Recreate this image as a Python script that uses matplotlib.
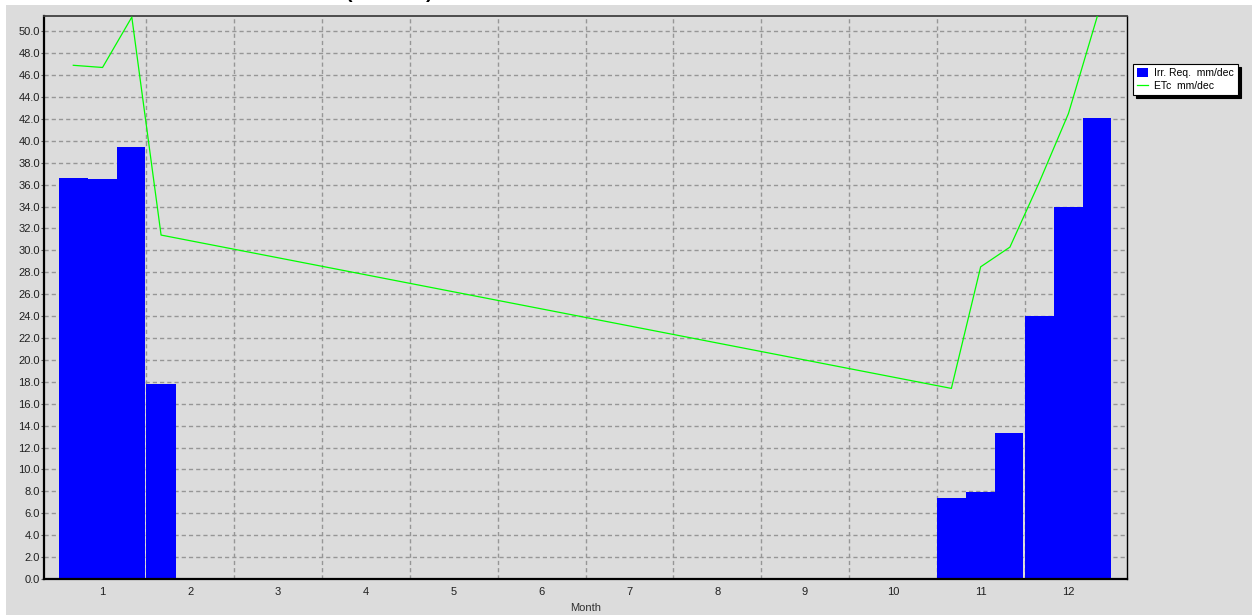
import matplotlib
matplotlib.use("Agg")
import matplotlib.pyplot as plt
from matplotlib.patches import Rectangle

# ---- data ----
months = [1, 2, 3, 4, 5, 6, 7, 8, 9, 10, 11, 12]
decades = list(range(1, 37))
irr_req = [36.6, 36.5, 39.4, 17.8, 0, 0, 0, 0, 0, 0, 0, 0,
           0, 0, 0, 0, 0, 0, 0, 0, 0, 0, 0, 0,
           0, 0, 0, 0, 0, 0, 7.4, 7.9, 13.3, 24.0, 34.0, 42.1]
etc_decades = [1, 2, 3, 4, 31, 32, 33, 34, 35, 36]
etc_values = [46.9, 46.7, 51.3, 31.4, 17.4, 28.5, 30.3, 36.2, 42.5, 51.5]
yticks = [i * 2.0 for i in range(26)]
ytick_labels = ["%.1f" % v for v in yticks]
legend_labels = ["Irr. Req.  mm/dec", "ETc  mm/dec"]
title_text = "(mm/dec)"
xlabel = "Month"

W, H = 1252, 616
GRAY = "#dcdcdc"
FONT = "Liberation Sans"
FS = 8

fig = plt.figure(figsize=(W / 100, H / 100), dpi=100)
fig.patch.set_facecolor("white")
fig.patches.append(Rectangle((6 / W, 1 / H), 1 - 6 / W, (615 - 5) / H,
                             transform=fig.transFigure, facecolor=GRAY,
                             edgecolor="none", zorder=-5))

left, right, top, bottom = 44, 1127, 16, 579
ax = fig.add_axes([left / W, (H - bottom) / H, (right - left) / W, (bottom - top) / H])
ax.set_zorder(2)
ax.set_facecolor(GRAY)

# bars: last decade of each month slightly narrower to show month separation
widths = [0.96 if d % 3 == 0 else 1.0 for d in decades]
bars = ax.bar([d - 0.5 for d in decades], irr_req, width=widths, align="edge",
              color="#0000ff", edgecolor="none", zorder=2)
line, = ax.plot(etc_decades, etc_values, color="#00ff00", lw=0.9, zorder=3)

ax.set_xlim(0, 37)
ax.set_ylim(0, 51.4)

# grid
GRID = "#969696"
for yv in yticks[1:]:
    ax.axhline(yv, color=GRID, lw=1, dashes=(3.0, 2.2), zorder=1)
for m in months[:-1]:
    ax.axvline(3 * m + 0.5, color=GRID, lw=1, dashes=(3.0, 2.2), zorder=1)

ax.set_yticks(yticks)
ax.set_yticklabels(ytick_labels, fontsize=FS, family=FONT, color="#202020")
ax.set_xticks([3 * m - 1 for m in months])
ax.set_xticklabels([str(m) for m in months], fontsize=FS, family=FONT, color="#202020")
ax.tick_params(axis="y", length=2, width=0.8, pad=1, color="#606060")
ax.tick_params(axis="x", length=0, pad=6)
ax.set_xlabel(xlabel, fontsize=FS, family=FONT, color="#303030", labelpad=4)

for s in ["left", "bottom"]:
    ax.spines[s].set_linewidth(1.6)
    ax.spines[s].set_color("black")
ax.spines["top"].set_linewidth(1.3)
ax.spines["top"].set_color("#404040")
ax.spines["right"].set_linewidth(1.0)
ax.spines["right"].set_color("black")

leg = fig.legend([bars, line], legend_labels, loc="upper left",
                 bbox_to_anchor=(1133 / W, (H - 64) / H),
                 bbox_transform=fig.transFigure, borderaxespad=0,
                 prop={"family": FONT, "size": 7.5}, fancybox=False,
                 edgecolor="black", framealpha=1, facecolor="white",
                 shadow={"color": "black", "alpha": 1},
                 handlelength=1.0, handleheight=1.0, handletextpad=0.6,
                 borderpad=0.4, labelspacing=0.25)
leg.get_frame().set_linewidth(0.8)
leg.set_zorder(5)

fig.text(346 / W, 1 + 2 / H, title_text, fontsize=14, fontweight="bold",
         family=FONT, va="baseline", ha="left", color="black")

fig.savefig("out.png", dpi=100)
